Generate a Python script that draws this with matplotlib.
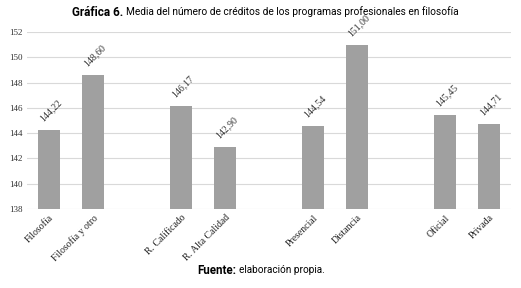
import matplotlib.pyplot as plt

categories = ["Filosofía", "Filosofía y otro", "", "R. Calificado", "R. Alta Calidad", "",
              "Presencial", "Distancia", "", "Oficial", "Privada"]
values = [144.22, 148.60, None, 146.17, 142.90, None, 144.54, 151.00, None, 145.45, 144.71]
yticks = [138, 140, 142, 144, 146, 148, 150, 152]

fig = plt.figure(figsize=(5.21, 2.88), dpi=100)
ax = fig.add_axes([27 / 521, 1 - 209 / 288, 484 / 521, 177 / 288])

xs = [i for i, v in enumerate(values) if v is not None]
vs = [v for v in values if v is not None]
ax.bar(xs, [v - 138 for v in vs], bottom=138, width=0.5, color="#a0a0a0", zorder=3)

for x, v in zip(xs, vs):
    ax.annotate(f"{v:.2f}".replace(".", ","), (x, v), xytext=(1.5, 14), textcoords="offset points",
                ha="center", va="center", rotation=45, fontsize=7, family="Liberation Serif",
                color="#333333")

ax.set_xlim(-0.5, len(categories) - 0.5)
ax.set_ylim(138, 152)
ax.set_yticks(yticks)
ax.set_yticklabels([str(t) for t in yticks], family="Liberation Serif", fontsize=6.5, color="#333333")
ax.set_xticks(range(len(categories)))
ax.set_xticklabels(categories, rotation=45, ha="right", rotation_mode="anchor",
                   family="Liberation Serif", fontsize=7, color="#222222")
ax.tick_params(length=0, pad=3)
ax.grid(axis="y", color="#d9d9d9", linewidth=0.8, zorder=0)
for s in ax.spines.values():
    s.set_visible(False)

font = "Roboto"
fig.text(123 / 521, 1 - 12 / 288, "Gráfica 6.", ha="right", va="center", fontsize=8.5,
         fontweight="bold", family=font)
fig.text(126 / 521, 1 - 12 / 288, "Media del número de créditos de los programas profesionales en filosofía",
         ha="left", va="center", fontsize=7.3, family=font)
fig.text(236 / 521, 1 - 270 / 288, "Fuente:", ha="right", va="center", fontsize=8.3,
         fontweight="bold", family=font)
fig.text(239 / 521, 1 - 270 / 288, "elaboración propia.", ha="left", va="center", fontsize=7.2,
         family=font)

fig.savefig("out.png", dpi=100)
